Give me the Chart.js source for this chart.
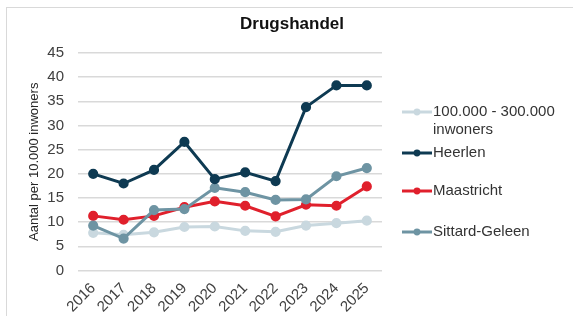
<!DOCTYPE html>
<html>
<head>
<meta charset="utf-8">
<script src="https://cdn.jsdelivr.net/npm/chart.js@4/dist/chart.umd.min.js"></script>
<style>
  html, body { margin: 0; padding: 0; background: #ffffff; }
  #wrap { position: relative; width: 573px; height: 316px; overflow: hidden; }
  #frame { position: absolute; left: 6px; top: 7px; right: -2px; bottom: -2px; border-left: 1px solid #d9d9d9; border-top: 1px solid #d9d9d9; }
  canvas { position: absolute; left: 0; top: 0; }
</style>
</head>
<body>
<div id="wrap">
  <div id="frame"></div>
  <canvas id="c" width="573" height="316"></canvas>
</div>
<script>
const chartTitle = "Drugshandel";
const yAxisTitle = "Aantal per 10.000 inwoners";
const years = ["2016", "2017", "2018", "2019", "2020", "2021", "2022", "2023", "2024", "2025"];
const yTicks = [0, 5, 10, 15, 20, 25, 30, 35, 40, 45];

const seriesNames = [["100.000 - 300.000", "inwoners"], ["Heerlen"], ["Maastricht"], ["Sittard-Geleen"]];
const gemiddeld = [7.8, 7.4, 7.9, 9.0, 9.1, 8.2, 8.0, 9.3, 9.8, 10.3];
const heerlen = [20.0, 18.0, 20.8, 26.6, 18.9, 20.3, 18.5, 33.8, 38.3, 38.3];
const maastricht = [11.3, 10.5, 11.3, 13.1, 14.3, 13.4, 11.2, 13.6, 13.4, 17.4];
const sittard = [9.3, 6.6, 12.5, 12.7, 17.1, 16.2, 14.6, 14.7, 19.5, 21.2];

const colors = ["#c9d8df", "#0e3a52", "#e0202c", "#6e94a3"];
const FONT = "'Liberation Sans', Arial, sans-serif";

function ds(i, data, order) {
  return {
    label: seriesNames[i].join(" "),
    legendLines: seriesNames[i],
    data: data,
    borderColor: colors[i],
    backgroundColor: colors[i],
    pointBackgroundColor: colors[i],
    pointBorderColor: colors[i],
    borderWidth: 3,
    pointRadius: 3.6,
    pointHoverRadius: 3.6,
    tension: 0,
    order: order
  };
}

const titlePlugin = {
  id: "titleText",
  afterDraw(chart) {
    const ctx = chart.ctx;
    ctx.save();
    ctx.font = "bold 17px " + FONT;
    ctx.fillStyle = "#111111";
    ctx.textAlign = "center";
    ctx.textBaseline = "middle";
    ctx.fillText(chartTitle, 292, 24);
    ctx.restore();
  }
};

const legendPlugin = {
  id: "sideLegend",
  afterDraw(chart) {
    const ctx = chart.ctx;
    const rows = [112, 153, 191, 232];
    ctx.save();
    chart.data.datasets.forEach((d, i) => {
      const y = rows[i];
      ctx.strokeStyle = d.borderColor;
      ctx.lineWidth = 3;
      ctx.beginPath();
      ctx.moveTo(402, y);
      ctx.lineTo(432, y);
      ctx.stroke();
      ctx.fillStyle = d.borderColor;
      ctx.beginPath();
      ctx.arc(417, y, 3.4, 0, Math.PI * 2);
      ctx.fill();
      ctx.font = "15px " + FONT;
      ctx.fillStyle = "#333333";
      ctx.textAlign = "left";
      ctx.textBaseline = "middle";
      d.legendLines.forEach((t, k) => ctx.fillText(t, 433, y + k * 18));
    });
    ctx.restore();
  }
};

new Chart(document.getElementById("c"), {
  type: "line",
  data: {
    labels: years,
    datasets: [ds(0, gemiddeld, 4), ds(1, heerlen, 1), ds(2, maastricht, 3), ds(3, sittard, 2)]
  },
  options: {
    responsive: false,
    animation: false,
    devicePixelRatio: 1,
    layout: { padding: { left: 0, right: 191, top: 53, bottom: 0 } },
    plugins: { legend: { display: false }, title: { display: false }, tooltip: { enabled: false } },
    scales: {
      x: {
        offset: true,
        grid: { display: false, drawTicks: false },
        border: { display: false },
        ticks: { minRotation: 45, maxRotation: 45, color: "#404040", font: { family: FONT, size: 15 }, padding: 9 },
        afterFit(scale) { scale.height = 45.5; }
      },
      y: {
        min: 0, max: 45,
        afterBuildTicks(scale) { scale.ticks = yTicks.map(v => ({ value: v })); },
        grid: { color: "#d9d9d9", lineWidth: 1.4, drawTicks: false },
        border: { display: false },
        ticks: { color: "#404040", font: { family: FONT, size: 15 }, padding: 14 },
        title: { display: true, text: yAxisTitle, color: "#262626", font: { family: FONT, size: 13 }, padding: { top: 27, bottom: 0 } },
        afterFit(scale) { scale.width = 78; }
      }
    }
  },
  plugins: [titlePlugin, legendPlugin]
});
</script>
</body>
</html>
